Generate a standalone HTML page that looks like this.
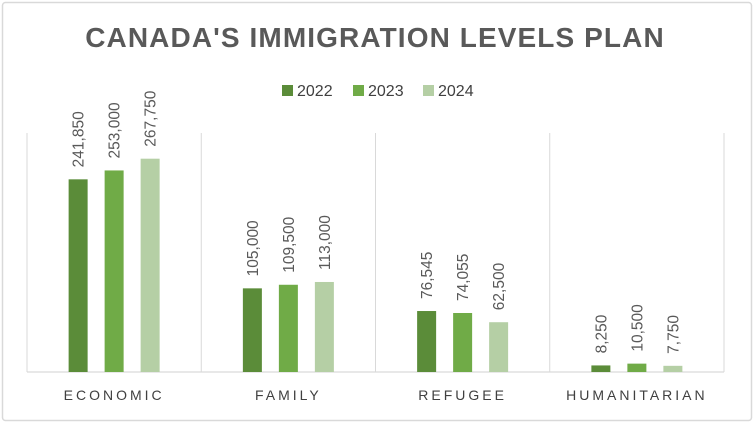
<!DOCTYPE html>
<html><head><meta charset="utf-8"><style>
html,body{margin:0;padding:0;background:#fff;}
svg{display:block;font-family:"Liberation Sans",sans-serif;}
</style></head><body>
<svg id="chart" width="754" height="423">
<rect x="2.5" y="2.5" width="749" height="418" rx="3" fill="#fff" stroke="#d9d9d9" stroke-width="1.5"/>
<text x="375" y="47" text-anchor="middle" font-size="28" font-weight="bold" fill="#595959" letter-spacing="1.1">CANADA'S IMMIGRATION LEVELS PLAN</text>
<g id="legend"></g>
<g id="grid"></g>
<g id="bars"></g>
</svg>
<script>
const categories = ["ECONOMIC","FAMILY","REFUGEE","HUMANITARIAN"];
const seriesNames = ["2022","2023","2024"];
const values2022 = [241850,105000,76545,8250];
const values2023 = [253000,109500,74055,10500];
const values2024 = [267750,113000,62500,7750];
const valueLabels2022 = ["241,850","105,000","76,545","8,250"];
const valueLabels2023 = ["253,000","109,500","74,055","10,500"];
const valueLabels2024 = ["267,750","113,000","62,500","7,750"];

const NS="http://www.w3.org/2000/svg";
const colors=["#5b8c39","#70ab47","#b5cfa5"];
const plotL=27, plotR=724, plotTop=133, base=372, yMax=300000;
const catW=(plotR-plotL)/categories.length;
const y=v=>base-(v/yMax)*(base-plotTop);
const xCat=i=>plotL+catW*i;
function mk(tag,attrs,parent){const e=document.createElementNS(NS,tag);for(const k in attrs)e.setAttribute(k,attrs[k]);parent.appendChild(e);return e;}
const grid=document.getElementById('grid'), bars=document.getElementById('bars'), legend=document.getElementById('legend');
for(let i=0;i<=categories.length;i++){
  const l=mk('line',{x1:xCat(i),x2:xCat(i),y1:plotTop,y2:base,stroke:'#d9d9d9','stroke-width':1},grid);
  
  
}
const ax=mk('line',{x1:plotL,x2:plotR,y1:base,y2:base,stroke:'#d9d9d9','stroke-width':1.2},grid);


const all=[values2022,values2023,values2024], labs=[valueLabels2022,valueLabels2023,valueLabels2024];
const bw=19, gap=36;
categories.forEach((c,i)=>{
  const cx=xCat(i)+catW/2;
  const t=mk('text',{x:cx,y:400,'text-anchor':'middle','font-size':14,fill:'#404040','letter-spacing':3},bars);
  t.textContent=c;
  
  
  all.forEach((arr,s)=>{
    const bx=cx+(s-1)*gap;
    const r=mk('rect',{x:bx-bw/2,y:y(arr[i]),width:bw,height:base-y(arr[i]),fill:colors[s]},bars);
    
    
    const vt=mk('text',{x:0,y:0,'font-size':15.5,fill:'#595959',transform:`translate(${bx+5.5},${y(arr[i])-12}) rotate(-90)`},bars);
    vt.textContent=labs[s][i];
    
    
  });
});
const lx=[282,353,423];
seriesNames.forEach((n,s)=>{
  const g=mk('g',{},legend);
  
  
  mk('rect',{x:lx[s],y:85,width:11,height:11,fill:colors[s]},g);
  const t=mk('text',{x:lx[s]+15,y:96,'font-size':16,fill:'#404040'},g);
  t.textContent=n;
});
</script>
</body></html>
